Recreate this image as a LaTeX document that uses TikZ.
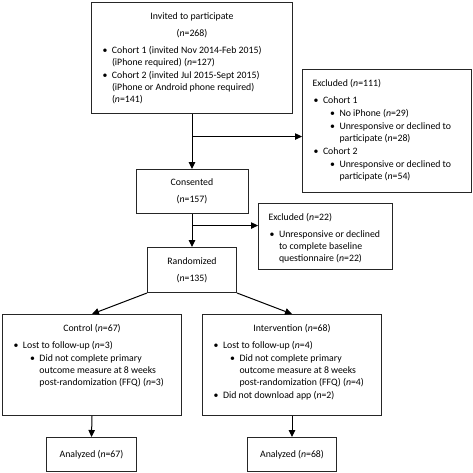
\documentclass[tikz,border=0pt]{standalone}
\usepackage{fontspec}
\setmainfont{Carlito}
\usetikzlibrary{arrows.meta,calc}
\tikzset{
  box/.style={draw=black!85, line width=1pt, anchor=north west, inner xsep=10pt, inner ysep=10pt, font=\fontsize{9.8pt}{12pt}\selectfont},
  plainbox/.style={draw=black!85, line width=1pt, anchor=north west, align=center, inner sep=0pt, font=\fontsize{9.8pt}{12pt}\selectfont},
  flow/.style={line width=1pt, -{Triangle[length=7pt,width=6.5pt]}}
}
\newcommand{\boxtext}[3]{\begin{minipage}[t][#2][t]{#1}\raggedright\parskip=1pt #3\end{minipage}}
\newcommand{\headline}[1]{#1\par\vspace{4pt}}
\newcommand{\itemone}[1]{\par\leftskip=10.5pt\noindent\llap{\textbullet\hspace{4.5pt}}#1}
\newcommand{\itemtwo}[1]{\par\leftskip=27pt\noindent\llap{\textbullet\hspace{4.5pt}}#1}
\newcommand{\nval}[1]{(\textit{n}=#1)}
\begin{document}
\begin{tikzpicture}[x=1pt,y=-1pt]
\useasboundingbox (0,0) rectangle (472,473);
\node[box] (invited) at (91,2) {\boxtext{181pt}{91pt}{{\centering Invited to participate\\[5pt]\nval{268}\par}\vspace{4pt}%
\itemone{Cohort 1 (invited Nov 2014-Feb 2015) (iPhone required) \nval{127}}%
\itemone{Cohort 2 (invited Jul 2015-Sept 2015) (iPhone or Android phone required) \nval{141}}}};
\node[box] (excl1) at (302,69) {\boxtext{149pt}{103pt}{\headline{Excluded \nval{111}}%
\itemone{Cohort 1}%
\itemtwo{No iPhone \nval{29}}%
\itemtwo{Unresponsive or declined to participate \nval{28}}%
\itemone{Cohort 2}%
\itemtwo{Unresponsive or declined to participate \nval{54}}}};
\node[plainbox, minimum width=112pt, minimum height=44pt] (consented) at (135.5,169) {Consented\\[5pt]\nval{157}};
\node[box] (excl2) at (258,203) {\boxtext{114pt}{46pt}{\headline{Excluded \nval{22}}%
\itemone{Unresponsive or declined to complete baseline questionnaire \nval{22}}}};
\node[plainbox, minimum width=89pt, minimum height=45pt] (randomized) at (147,247) {Randomized\\[5pt]\nval{135}};
\node[box] (control) at (2,314) {\boxtext{159pt}{81pt}{{\centering Control \nval{67}\par}\vspace{4pt}%
\itemone{Lost to follow-up \nval{3}}%
\itemtwo{Did not complete primary outcome measure at 8 weeks post-randomization (FFQ) \nval{3}}}};
\node[box] (interv) at (202,314) {\boxtext{159pt}{81pt}{{\centering Intervention \nval{68}\par}\vspace{4pt}%
\itemone{Lost to follow-up \nval{4}}%
\itemtwo{Did not complete primary outcome measure at 8 weeks post-randomization (FFQ) \nval{4}}%
\itemone{Did not download app \nval{2}}}};
\node[plainbox, minimum width=90pt, minimum height=34pt] (analyzedc) at (46,437) {Analyzed \nval{67}};
\node[plainbox, minimum width=89pt, minimum height=34pt] (analyzedi) at (247,437) {Analyzed \nval{68}};
\draw[flow] (invited.south) -- (consented.north);
\coordinate (split1) at ($(invited.south)!0.41!(consented.north)$);
\draw[flow] (split1) -- (split1 -| excl1.west);
\draw[flow] (consented.south) -- (randomized.north);
\coordinate (split2) at ($(consented.south)!0.35!(randomized.north)$);
\draw[flow] (split2) -- (split2 -| excl2.west);
\draw[flow] (randomized.south west) -- (control.north);
\draw[flow] (randomized.south east) -- (interv.north);
\draw[flow] (control.south) -- (analyzedc.north);
\draw[flow] (interv.south) -- (analyzedi.north);
\end{tikzpicture}
\end{document}
